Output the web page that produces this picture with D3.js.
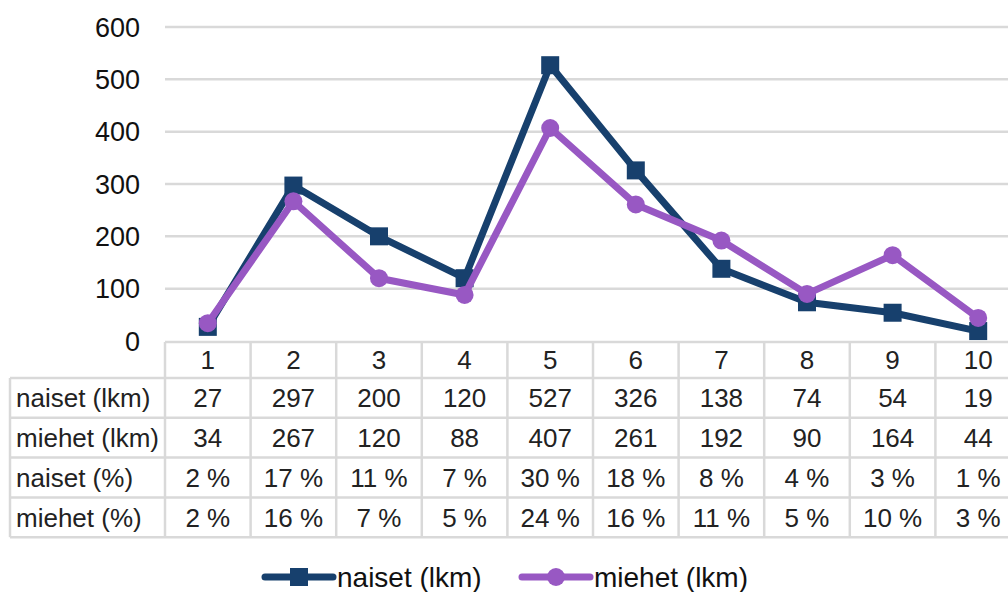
<!DOCTYPE html>
<html>
<head>
<meta charset="utf-8">
<script src="https://cdn.jsdelivr.net/npm/d3@7"></script>
<style>
  body { margin: 0; background: #fff; }
  svg { display: block; font-family: "Liberation Sans", Arial, sans-serif; }
</style>
</head>
<body>
<svg width="1008" height="592"></svg>
<script>
const categories = ['1', '2', '3', '4', '5', '6', '7', '8', '9', '10'];
const naisetLkm = [27, 297, 200, 120, 527, 326, 138, 74, 54, 19];
const miehetLkm = [34, 267, 120, 88, 407, 261, 192, 90, 164, 44];
const naisetPct = [2, 17, 11, 7, 30, 18, 8, 4, 3, 1];
const miehetPct = [2, 16, 7, 5, 24, 16, 11, 5, 10, 3];
const yTicks = [0, 100, 200, 300, 400, 500, 600];

const blue = '#17406d';
const purple = '#9858c3';
const grid = '#d9d9d9';

const svg = d3.select('svg');

const left = 165, right = 1021;
const x = d3.scaleBand().domain(categories).range([left, right]);
const y = d3.scaleLinear().domain([0, 600]).range([341, 27]);

// gridlines
svg.append('g')
    .selectAll('line')
    .data(yTicks.filter(d => d > 0))
    .join('line')
    .attr('x1', left).attr('x2', right)
    .attr('y1', d => y(d)).attr('y2', d => y(d))
    .attr('stroke', grid).attr('stroke-width', 2.5);

// y axis labels
svg.append('g')
    .selectAll('text')
    .data(yTicks)
    .join('text')
    .attr('x', 140)
    .attr('y', d => y(d))
    .attr('dy', '0.36em')
    .attr('text-anchor', 'end')
    .attr('font-size', 27)
    .attr('fill', '#111')
    .text(d => d);

// data table
const rows = [
    { label: 'naiset (lkm)', values: naisetLkm.map(String) },
    { label: 'miehet (lkm)', values: miehetLkm.map(String) },
    { label: 'naiset (%)', values: naisetPct.map(d => d + ' %') },
    { label: 'miehet (%)', values: miehetPct.map(d => d + ' %') }
];
const headTop = 342, headBottom = 378, rowH = 39.8;
const tableBottom = headBottom + rowH * rows.length;
const tbl = svg.append('g');

// vertical lines
tbl.selectAll('line.v')
    .data(categories.concat(['end']))
    .join('line')
    .attr('x1', (d, i) => left + i * x.bandwidth())
    .attr('x2', (d, i) => left + i * x.bandwidth())
    .attr('y1', headTop).attr('y2', tableBottom)
    .attr('stroke', grid).attr('stroke-width', 2.5);
tbl.append('line')
    .attr('x1', 10).attr('x2', 10).attr('y1', headBottom).attr('y2', tableBottom)
    .attr('stroke', grid).attr('stroke-width', 2.5);
// horizontal lines
tbl.append('line')
    .attr('x1', left).attr('x2', right).attr('y1', headTop).attr('y2', headTop)
    .attr('stroke', grid).attr('stroke-width', 2.5);
tbl.selectAll('line.h')
    .data(d3.range(rows.length + 1))
    .join('line')
    .attr('x1', 10).attr('x2', right)
    .attr('y1', i => headBottom + i * rowH).attr('y2', i => headBottom + i * rowH)
    .attr('stroke', grid).attr('stroke-width', 2.5);

// header
tbl.selectAll('text.head')
    .data(categories)
    .join('text')
    .attr('x', d => x(d) + x.bandwidth() / 2)
    .attr('y', (headTop + headBottom) / 2)
    .attr('dy', '0.36em')
    .attr('text-anchor', 'middle')
    .attr('font-size', 26)
    .attr('fill', '#222')
    .text(d => d);

rows.forEach((r, ri) => {
    const cy = headBottom + rowH * (ri + 0.5);
    tbl.append('text')
        .attr('x', 16).attr('y', cy).attr('dy', '0.36em')
        .attr('font-size', 26).attr('fill', '#222')
        .text(r.label);
    tbl.selectAll(null)
        .data(r.values)
        .join('text')
        .attr('x', (d, i) => x(categories[i]) + x.bandwidth() / 2)
        .attr('y', cy).attr('dy', '0.36em')
        .attr('text-anchor', 'middle')
        .attr('font-size', 26).attr('fill', '#222')
        .text(d => d);
});

// lines
const cx = (d, i) => x(categories[i]) + x.bandwidth() / 2;
const line = d3.line().x(cx).y(d => y(d));

svg.append('path').datum(naisetLkm)
    .attr('d', line).attr('fill', 'none')
    .attr('stroke', blue).attr('stroke-width', 7).attr('stroke-linejoin', 'round');
svg.append('g').selectAll('rect')
    .data(naisetLkm).join('rect')
    .attr('x', (d, i) => cx(d, i) - 9).attr('y', d => y(d) - 9)
    .attr('width', 18).attr('height', 18).attr('fill', blue);

svg.append('path').datum(miehetLkm)
    .attr('d', line).attr('fill', 'none')
    .attr('stroke', purple).attr('stroke-width', 7).attr('stroke-linejoin', 'round');
svg.append('g').selectAll('circle')
    .data(miehetLkm).join('circle')
    .attr('cx', cx).attr('cy', d => y(d)).attr('r', 9).attr('fill', purple);

// legend
const legend = [
    { name: 'naiset (lkm)', color: blue, shape: 'rect', x0: 265 },
    { name: 'miehet (lkm)', color: purple, shape: 'circle', x0: 522 }
];
const ly = 577;
legend.forEach(l => {
    const g = svg.append('g');
    g.append('line').attr('x1', l.x0).attr('x2', l.x0 + 68)
        .attr('y1', ly).attr('y2', ly)
        .attr('stroke', l.color).attr('stroke-width', 7).attr('stroke-linecap', 'round');
    if (l.shape === 'rect') {
        g.append('rect').attr('x', l.x0 + 34 - 9).attr('y', ly - 9)
            .attr('width', 18).attr('height', 18).attr('fill', l.color);
    } else {
        g.append('circle').attr('cx', l.x0 + 34).attr('cy', ly).attr('r', 9).attr('fill', l.color);
    }
    g.append('text').attr('x', l.x0 + 72).attr('y', ly).attr('dy', '0.36em')
        .attr('font-size', 28).attr('fill', '#111').text(l.name);
});
</script>
</body>
</html>
